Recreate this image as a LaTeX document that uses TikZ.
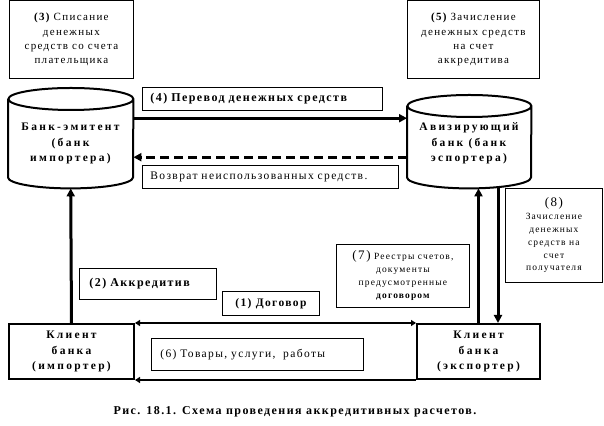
\documentclass[tikz,border=0pt]{standalone}
\usepackage{fontspec}
\setmainfont{Liberation Serif}
\newfontfamily\lsp{Liberation Serif}[LetterSpace=12]
\newfontfamily\lspw{Liberation Serif}[LetterSpace=20]
\usetikzlibrary{arrows.meta}
\begin{document}
\begin{tikzpicture}[x=1pt,y=1pt,
  tbox/.style={draw, line width=0.8pt, inner sep=0pt, anchor=north west, align=center,
     font=\lsp\fontsize{11}{14.3}\selectfont},
  lbox/.style={tbox, align=left, inner xsep=8pt},
  client/.style={draw, line width=2pt, inner sep=0pt, anchor=north west, align=center,
     font=\lspw\bfseries\fontsize{11.5}{15.5}\selectfont},
  cylarea/.style={inner sep=0pt, anchor=north west},
  cyltext/.style={align=center, inner sep=0pt, font=\lspw\bfseries\fontsize{11.5}{15.5}\selectfont},
  cylline/.style={line width=2pt},
  thickarr/.style={line width=3pt, -{Triangle[length=8pt,width=8pt]}},
  thinarr/.style={line width=1.5pt}
]
\useasboundingbox (0,0) rectangle (604,425);

% top text boxes
\node[tbox, minimum width=124pt, minimum height=77.5pt] (b3) at (9,424.5)
  {{\bfseries(3)} Списание\\денежных\\средств со счета\\плательщика};
\node[tbox, minimum width=132pt, minimum height=77.5pt] (b5) at (407,424.5)
  {{\bfseries(5)} Зачисление\\денежных средств\\на счет\\аккредитива};

% cylinders
\node[cylarea, minimum width=125pt, minimum height=100pt] (L) at (8,337) {};
\node[cylarea, minimum width=124pt, minimum height=93pt] (R) at (407,330) {};
\draw[cylline] ([yshift=-11pt]L.north west) -- ([yshift=11pt]L.south west)
  arc[start angle=180, end angle=360, x radius=62.5pt, y radius=11pt]
  -- ([yshift=-11pt]L.north east)
  arc[start angle=0, end angle=180, x radius=62.5pt, y radius=11pt]
  arc[start angle=180, end angle=360, x radius=62.5pt, y radius=11pt];
\draw[cylline] ([yshift=-11pt]R.north west) -- ([yshift=11pt]R.south west)
  arc[start angle=180, end angle=360, x radius=62pt, y radius=11pt]
  -- ([yshift=-11pt]R.north east)
  arc[start angle=0, end angle=180, x radius=62pt, y radius=11pt]
  arc[start angle=180, end angle=360, x radius=62pt, y radius=11pt];
\node[cyltext] (Lt) at (70.5,281.5) {Банк-эмитент\\(банк\\импортера)};
\node[cyltext] (Rt) at (469,281.5) {Авизирующий\\банк (банк\\эспортера)};

% middle boxes
\node[lbox, font=\lsp\bfseries\fontsize{12}{14}\selectfont, minimum width=240pt, minimum height=23pt, text width=224pt] (b4) at (142,338)
  {(4) Перевод денежных средств};
\node[lbox, font=\lsp\fontsize{11.5}{14}\selectfont, minimum width=256pt, minimum height=23pt, text width=240pt] (bv) at (142,260)
  {Возврат неиспользованных средств.};

\draw[thickarr] ([yshift=20pt]L.east) -- ([yshift=20pt]L.east -| R.west);
\draw[line width=3pt, dash pattern=on 9pt off 5pt, -{Triangle[length=8pt,width=8pt]}]
  ([yshift=-19pt]L.east -| R.west) -- ([yshift=-19pt]L.east);

\node[tbox, font=\lsp\fontsize{9.5}{12.8}\selectfont, minimum width=97pt, minimum height=94pt] (b8) at (505,237)
  {{\fontsize{13}{14}\selectfont(8)}\\Зачисление\\денежных\\средств на\\счет\\получателя};
\node[tbox, font=\lsp\fontsize{9.5}{13}\selectfont, minimum width=133pt, minimum height=63pt] (b7) at (336,181)
  {{\fontsize{13}{14}\selectfont(7)} Реестры счетов,\\документы\\предусмотренные\\{\bfseries договором}};
\node[lbox, font=\lsp\bfseries\fontsize{12}{14}\selectfont, minimum width=133pt, minimum height=31pt, text width=117pt, inner xsep=10pt] (b2) at (79,157)
  {(2) Аккредитив};
\node[tbox, font=\lsp\bfseries\fontsize{11.5}{14}\selectfont, minimum width=97pt, minimum height=24pt] (b1) at (222,134)
  {(1) Договор};

% clients
\node[client, minimum width=125pt, minimum height=55pt] (CL) at (8,102)
  {Клиент\\банка\\(импортер)};
\node[client, minimum width=123pt, minimum height=55pt] (CR) at (416,102)
  {Клиент\\банка\\(экспортер)};
\node[lbox, font=\lsp\fontsize{11.5}{14}\selectfont, minimum width=212pt, minimum height=32pt, text width=194pt, inner xsep=9pt] (b6) at (151,87)
  {(6) Товары, услуги,~ работы};

% connectors
\draw[thickarr] (CL.north) -- (L.south);
\draw[thickarr] (CR.north) -- (CR.north |- R.south);
\draw[thickarr] ([xshift=19.5pt]CR.north |- R.south) -- ([xshift=19.5pt]CR.north);
\draw[thinarr, {Triangle[length=5pt,width=6pt]}-{Triangle[length=5pt,width=6pt]}]
  (CL.north east) -- (CR.north west);
\draw[thinarr, -{Triangle[length=5pt,width=6pt]}] (CR.south west) -- (CL.south east);

% caption
\node[font=\lsp\bfseries\fontsize{12}{14}\selectfont, inner sep=0pt] (cap) at (295,13)
  {Рис. 18.1. Схема проведения аккредитивных расчетов.};
\end{tikzpicture}
\end{document}
